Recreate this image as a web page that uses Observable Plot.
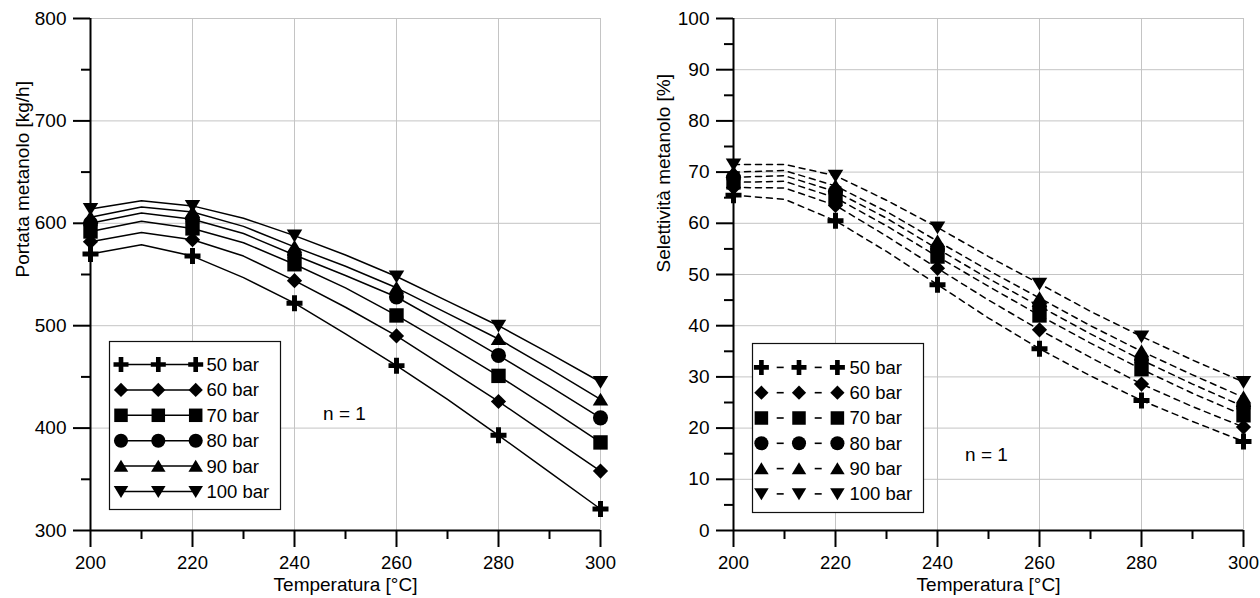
<!DOCTYPE html>
<html><head><meta charset="utf-8">
<script src="https://cdn.jsdelivr.net/npm/d3@7"></script>
<script src="https://cdn.jsdelivr.net/npm/@observablehq/plot@0.6"></script>
<style>
body{margin:0;background:#fff;font-family:"Liberation Sans",Arial,sans-serif;}
#wrap{position:relative;width:1260px;height:598px;display:flex;overflow:hidden;}
.panel{position:relative;width:630px;height:598px;}
.panel svg.legend{position:absolute;overflow:visible;}
</style></head><body>
<div id="wrap"><div class="panel" id="p1"></div><div class="panel" id="p2"></div></div>
<script>
// ---------- data ----------
const temps = [200,210,220,230,240,250,260,270,280,290,300];
const markerTemps = [200,220,240,260,280,300];
const pressures = ["50 bar","60 bar","70 bar","80 bar","90 bar","100 bar"];

// Portata metanolo [kg/h]
const portata50  = [570,579,568,547,522,492,461,428,393,357,321];
const portata60  = [582,591,584,568,544,518,490,458,426,392,358];
const portata70  = [592,602,595,581,560,537,510,481,451,419,386];
const portata80  = [600,610,604,590,569,549,528,500,471,441,410];
const portata90  = [606,616,611,597,577,558,537,512,487,458,428];
const portata100 = [614,622,617,605,588,569,548,524,500,473,445];

// Selettività metanolo [%]
const selett50  = [65.5,64.7,60.5,54.5,48.0,41.5,35.5,30.2,25.4,21.3,17.4];
const selett60  = [67.0,66.9,63.5,57.5,51.2,45.0,39.2,33.8,28.6,24.2,20.2];
const selett70  = [68.0,68.2,65.0,59.5,53.5,47.7,42.0,36.6,31.5,26.8,22.5];
const selett80  = [69.0,69.3,66.2,61.0,55.0,49.2,43.8,38.4,33.3,28.6,24.2];
const selett90  = [70.0,70.3,67.3,62.3,56.5,50.8,45.4,40.0,35.0,30.4,26.0];
const selett100 = [71.5,71.5,69.3,64.5,59.2,53.5,48.2,42.8,37.9,33.3,29.0];

const xMajor = [200,220,240,260,280,300];
const xMinor = [210,230,250,270,290];
const yMajorL = [300,400,500,600,700,800];
const yMinorL = [350,450,550,650,750];
const yMajorR = [0,10,20,30,40,50,60,70,80,90,100];
const yMinorR = [5,15,25,35,45,55,65,75,85,95];

const notesL = [{x:249.8, y:414, text:"n = 1"}];
const notesR = [{x:249.6, y:14.8, text:"n = 1"}];

// ---------- symbols ----------
const symPlus = {draw(c,s){const r=Math.sqrt(s/Math.PI),a=r,t=r*0.31;
  c.moveTo(-a,-t);c.lineTo(-t,-t);c.lineTo(-t,-a);c.lineTo(t,-a);c.lineTo(t,-t);c.lineTo(a,-t);
  c.lineTo(a,t);c.lineTo(t,t);c.lineTo(t,a);c.lineTo(-t,a);c.lineTo(-t,t);c.lineTo(-a,t);c.closePath();}};
const symDiamond = {draw(c,s){const r=Math.sqrt(s/Math.PI)*0.95;
  c.moveTo(0,-r);c.lineTo(r,0);c.lineTo(0,r);c.lineTo(-r,0);c.closePath();}};
const symSquare = {draw(c,s){const r=Math.sqrt(s/Math.PI)*0.9;
  c.moveTo(-r,-r);c.lineTo(r,-r);c.lineTo(r,r);c.lineTo(-r,r);c.closePath();}};
const symCircle = {draw(c,s){const r=Math.sqrt(s/Math.PI)*0.94;
  c.moveTo(r,0);c.arc(0,0,r,0,2*Math.PI);c.closePath();}};
const symTriUp = {draw(c,s){const r=Math.sqrt(s/Math.PI);
  c.moveTo(0,-0.85*r);c.lineTo(0.97*r,0.75*r);c.lineTo(-0.97*r,0.75*r);c.closePath();}};
const symTriDown = {draw(c,s){const r=Math.sqrt(s/Math.PI);
  c.moveTo(0,0.85*r);c.lineTo(0.97*r,-0.75*r);c.lineTo(-0.97*r,-0.75*r);c.closePath();}};
const symbols = [symPlus,symDiamond,symSquare,symCircle,symTriUp,symTriDown];

function toRows(arrays){
  const rows=[];
  arrays.forEach((arr,i)=>arr.forEach((v,j)=>rows.push({p:pressures[i],T:temps[j],v})));
  return rows;
}
const rowsL = toRows([portata50,portata60,portata70,portata80,portata90,portata100]);
const rowsR = toRows([selett50,selett60,selett70,selett80,selett90,selett100]);

const gridColor = "#c4c4c4";
const FONT = "Liberation Sans, Arial, sans-serif";
const FS = 19;

function makeChart({rows, yDomain, yMajor, yMinor, yLabel, ylabelDx, ylabelDy, marginLeft, marginRight, dash, notes}){
  const dots = pressures.map((p,i)=>Plot.dot(rows.filter(d=>d.p===p && markerTemps.includes(d.T)),
    {x:"T", y:"v", r:8, symbol:symbols[i], fill:"black", stroke:"none"}));
  return Plot.plot({
    width:630, height:598, marginLeft, marginRight, marginTop:18, marginBottom:68,
    style:{fontFamily:FONT, fontSize:FS+"px", color:"black", background:"transparent", overflow:"visible"},
    x:{domain:[200,300]}, y:{domain:yDomain},
    marks:[
      Plot.gridX(xMajor.slice(1), {stroke:gridColor, strokeOpacity:1, strokeWidth:1}),
      Plot.gridY(yMajor.slice(1), {stroke:gridColor, strokeOpacity:1, strokeWidth:1}),
      Plot.line(rows, {x:"T", y:"v", z:"p", stroke:"black", strokeWidth:1.5, strokeDasharray:dash, curve:"linear"}),
      ...dots,
      Plot.text(notes, {x:"x", y:"y", text:"text", fontSize:FS, fill:"black"}),
      Plot.axisX(xMajor, {tickSize:17, tickPadding:8, strokeWidth:2, label:null, fontSize:18.5}),
      Plot.axisX(xMinor, {tickSize:9, strokeWidth:2, text:null, label:null}),
      Plot.axisY(yMajor, {tickSize:17, tickPadding:7, strokeWidth:2, label:null, fontSize:FS}),
      Plot.axisY(yMinor, {tickSize:9, strokeWidth:2, text:null, label:null}),
      Plot.ruleX([200], {strokeWidth:2}),
      Plot.ruleY([yDomain[0]], {strokeWidth:2}),
      Plot.text(["Temperatura [°C]"], {frameAnchor:"bottom", dy:60, fontSize:FS, fill:"black"}),
      Plot.text([yLabel], {frameAnchor:"left", rotate:-90, dx:ylabelDx, dy:ylabelDy, fontSize:FS, fill:"black"})
    ]
  });
}

function legend(container, {left, top, width, height, rowTop, rowStep, mx, tx, dashed}){
  const svg = d3.select(container).append("svg").attr("class","legend")
    .attr("width",width+2).attr("height",height+2)
    .style("left",(left-1)+"px").style("top",(top-1)+"px");
  const g = svg.append("g").attr("transform","translate(1,1)");
  g.append("rect").attr("x",0.5).attr("y",0.5).attr("width",width).attr("height",height)
    .attr("fill","white").attr("stroke","#111").attr("stroke-width",1.2);
  pressures.forEach((p,i)=>{
    const y = rowTop + i*rowStep;
    if(!dashed){
      g.append("line").attr("x1",mx[0]).attr("x2",mx[2]).attr("y1",y).attr("y2",y)
        .attr("stroke","black").attr("stroke-width",1.5);
    } else {
      for(let k=0;k<2;k++){
        const cx=(mx[k]+mx[k+1])/2;
        g.append("line").attr("x1",cx-3.5).attr("x2",cx+3.5).attr("y1",y).attr("y2",y)
          .attr("stroke","black").attr("stroke-width",1.6);
      }
    }
    mx.forEach(x=>{
      const path = d3.path(); symbols[i].draw(path, Math.PI*7.5*7.5);
      g.append("path").attr("d",path.toString()).attr("transform",`translate(${x},${y})`).attr("fill","black");
    });
    g.append("text").attr("x",tx).attr("y",y).attr("dy","0.35em")
      .style("font-family",FONT).style("font-size","18.5px").text(p);
  });
}

const p1 = document.getElementById("p1"), p2 = document.getElementById("p2");
p1.appendChild(makeChart({rows:rowsL, yDomain:[300,800], yMajor:yMajorL, yMinor:yMinorL,
  yLabel:"Portata metanolo [kg/h]", ylabelDx:-68, ylabelDy:3, marginLeft:90, marginRight:30, dash:null, notes:notesL}));
p2.appendChild(makeChart({rows:rowsR, yDomain:[0,100], yMajor:yMajorR, yMinor:yMinorR,
  yLabel:"Selettività metanolo [%]", ylabelDx:-70, ylabelDy:-2, marginLeft:103, marginRight:17, dash:"6,5", notes:notesR}));

legend(p1, {left:109, top:341, width:171, height:168, rowTop:23.5, rowStep:25.4, mx:[12,49.3,86.7], tx:97.5, dashed:false});
legend(p2, {left:122.3, top:343.3, width:171, height:169, rowTop:24.4, rowStep:25.3, mx:[9.4,47,85.4], tx:97.5, dashed:true});
</script>
</body></html>
